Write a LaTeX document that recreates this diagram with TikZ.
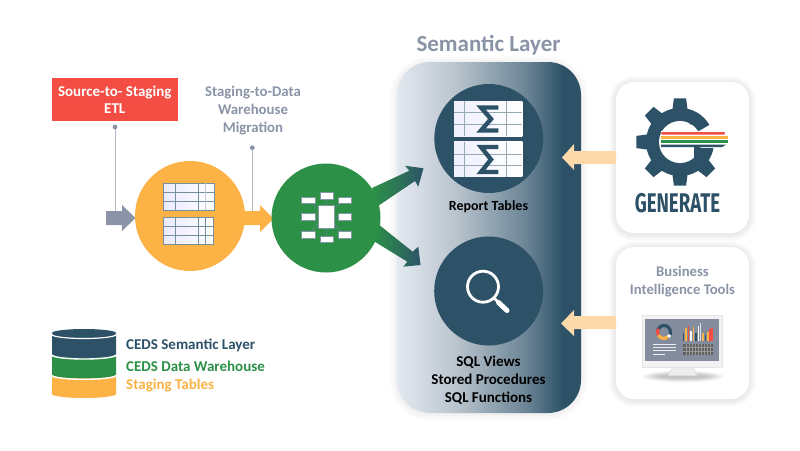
\documentclass[tikz,border=0pt]{standalone}
\usepackage{fontspec}
\usepackage{graphicx}
\setmainfont{Carlito}
\newfontfamily\genfont{Fira Sans}
\definecolor{deep}{HTML}{2D5268}
\definecolor{leaf}{HTML}{2C9147}
\definecolor{amber}{HTML}{FCB244}
\definecolor{slate}{HTML}{8A94A6}
\definecolor{redbox}{HTML}{F44D44}
\definecolor{peach}{HTML}{FDD9A9}
\definecolor{leader}{HTML}{B4BAC6}
\definecolor{panelA}{HTML}{E4E9F1}
\definecolor{panelB}{HTML}{B9C4CD}
\definecolor{panelC}{HTML}{6C8596}
\pgfdeclarehorizontalshading{panelshade}{100bp}{color(0bp)=(panelA);color(25bp)=(panelA);color(41bp)=(panelB);color(60bp)=(panelC);color(70bp)=(deep);color(75bp)=(deep);color(100bp)=(deep)}
\tikzset{
  ball/.style={circle,inner sep=0pt,minimum size=#1},
  lbl/.style={font=\bfseries\fontsize{15}{15}\selectfont,align=center,inner sep=0pt},
  cell/.style={left color=#1,right color=white,draw=none},
  gridline/.style={line width=0.9pt},
  leadline/.style={draw=leader,line width=0.9pt},
  leaddot/.style={fill=slate},
  sigma/.style={draw=deep,line width=4.4pt,miter limit=10,line cap=butt},
  mini/.style={fill=white,draw=deep!60,line width=0.3pt},
}
\newcommand{\softshadow}[6]{% x1 y1 x2 y2 radius opacity
  \foreach \e in {1,...,7}{
    \fill[black,opacity=#6,rounded corners=#5pt+\e pt] (#1-\e,#2-\e+1) rectangle (#3+\e,#4+\e+1);
  }
}
\begin{document}
\begin{tikzpicture}[x=1pt,y=-1pt]
\useasboundingbox (0,0) rectangle (800,450);
\fill[white] (0,0) rectangle (800,450);

% title
\node[lbl,text=slate,font=\bfseries\fontsize{23}{23}\selectfont] (title) at (488.5,45.5) {Semantic Layer};

% panel
\softshadow{397}{62}{581}{413}{33}{0.008}
\shade[shading=panelshade,rounded corners=33pt] (397,62) rectangle (581,413);

% cards
\softshadow{616}{82}{749}{233}{18}{0.011}
\fill[white,rounded corners=18pt] (616,82) rectangle (749,233);
\softshadow{616}{247}{749}{399}{18}{0.011}
\fill[white,rounded corners=18pt] (616,247) rectangle (749,399);

% peach arrows
\fill[peach] (616,151) -- (574,151) -- (574,144) -- (562,157.5) -- (574,170) -- (574,164) -- (616,164) -- cycle;
\fill[peach] (616,316) -- (574,316) -- (574,310) -- (561,323.5) -- (574,336) -- (574,329) -- (616,329) -- cycle;

% circles in panel
\node[ball=109pt,fill=deep] (rep) at (488.8,138.5) {};
\node[ball=109pt,fill=deep] (sql) at (488.7,291) {};

% green arrows
\shade[left color=leaf,right color=deep,middle color=leaf!55!deep] (372,188) -- (409.3,170.7) -- (405,165.7) -- (423.5,168.3) -- (418.3,186.7) -- (415,181) -- (378,206) -- cycle;
\shade[left color=leaf,right color=deep,middle color=leaf!55!deep] (378,224) -- (412.7,251.7) -- (418.3,246.7) -- (420.5,265) -- (403.3,266.7) -- (407.3,261.7) -- (372,240) -- cycle;

% gray arrow and orange arrow
\fill[slate] (106,211) -- (122,211) -- (122,205) -- (135.5,218) -- (122,231) -- (122,225) -- (106,225) -- cycle;
\coordinate (etldot) at (115,127);
\coordinate (etlend) at (115,211);
\coordinate (migdot) at (252.3,147.7);
\coordinate (migend) at (252.3,211);

% staging circle
\node[ball=110pt,fill=amber] (stg) at (190,216) {};
\fill[amber] (240,211) -- (260,211) -- (260,205) -- (273.5,218.5) -- (260,232) -- (260,225) -- (240,225) -- cycle;

% leaders
\draw[leadline] (etldot) -- (etlend);
\fill[leaddot] (etldot) circle[radius=2.4pt];
\draw[leadline] (migdot) -- (migend);
\fill[leaddot] (migdot) circle[radius=2.4pt];

% staging tables
\shade[cell=blue!8] (163.3,183.3) rectangle (214.3,210);
\draw[gridline,draw=deep!65] (163.3,183.3) rectangle (214.3,210)
  (163.3,192.3) -- (214.3,192.3) (163.3,201) -- (214.3,201) (175.3,183.3) -- (175.3,210) (198.3,183.3) -- (198.3,210);
\draw[gridline,draw=deep!30] (205.7,183.3) -- (205.7,210);
\shade[cell=blue!8] (163.3,217.3) rectangle (213.7,244);
\draw[gridline,draw=deep!65] (163.3,217.3) rectangle (213.7,244)
  (163.3,226) -- (213.7,226) (163.3,235.3) -- (213.7,235.3) (175.3,217.3) -- (175.3,244) (198.3,217.3) -- (198.3,244) (205.7,217.3) -- (205.7,244);

% warehouse circle
\node[ball=109pt,fill=leaf] (dw) at (326,218) {};
\draw[deep!70,line width=0.5pt]
  (326,216) -- (308,200) (326,216) -- (326.5,195.5) (326,216) -- (344.5,200)
  (326,216) -- (308,216.5) (326,216) -- (344.5,216.5)
  (326,216) -- (308,234) (326,216) -- (326.5,239) (326,216) -- (344.5,234);
\fill[mini] (301,196.7) rectangle (315,203.3);
\fill[mini] (320,192) rectangle (333,198.7);
\fill[mini] (338,196.7) rectangle (351.3,203.3);
\fill[mini] (301,213.3) rectangle (315,220);
\fill[mini] (338,213.3) rectangle (351.3,220);
\fill[mini] (301,231) rectangle (315,237.7);
\fill[mini] (320,235.7) rectangle (333,242.3);
\fill[mini] (338,231) rectangle (351.3,237.7);
\fill[mini] (318,205) rectangle (334.3,228.3);

% report tables
\shade[cell=blue!6] (454,101) rectangle (522.3,136);
\draw[gridline,draw=deep!50] (454,112.3) -- (522.3,112.3) (454,124.3) -- (522.3,124.3) (464.3,101) -- (464.3,136) (506.7,101) -- (506.7,136);
\shade[cell=blue!6] (454,141.7) rectangle (522.3,176.7);
\draw[gridline,draw=deep!50] (454,154.3) -- (522.3,154.3) (454,165.7) -- (522.3,165.7) (464.3,141.7) -- (464.3,176.7) (506.7,141.7) -- (506.7,176.7);
\draw[sigma] (498.3,107.5) -- (481,107.5) -- (491,119) -- (481,130.5) -- (498.3,130.5);
\draw[sigma] (498.3,147) -- (481,147) -- (491,159.5) -- (481,172) -- (498.3,172);

% magnifier
\draw[white,line width=2.8pt] (483,286.7) circle[radius=15.5pt];
\draw[white,line width=2.6pt] (494,298) -- (500,304);
\draw[white,line width=5pt,line cap=round] (498.5,302.5) -- (507,310.5);

% labels
\node[lbl,text=black,font=\bfseries\fontsize{14}{14}\selectfont] (reptxt) at (488.5,206.5) {Report Tables};
\node[lbl,text=black,font=\bfseries\fontsize{15}{18.3}\selectfont] (sqltxt) at (488.5,380) {SQL Views\\Stored Procedures\\SQL Functions};
\node[lbl,text=white,fill=redbox,minimum width=126.5pt,minimum height=43pt,font=\bfseries\fontsize{15}{17.5}\selectfont] (etl) at (114.75,99.5) {Source-to- Staging\\ETL};
\node[lbl,text=slate,font=\bfseries\fontsize{14.8}{18}\selectfont] (migtxt) at (253,111) {Staging-to-Data\\Warehouse\\Migration};
\node[lbl,text=slate,font=\bfseries\fontsize{14.7}{18}\selectfont] (bitxt) at (682.5,282) {Business\\Intelligence Tools};

% generate gear
\begin{scope}[shift={(680,142)}]
  \fill[deep] (0,0) circle[radius=34pt];
  \foreach \a in {90,135,180,225,270,315}{
    \fill[deep] (\a-14:32pt) -- (\a-8:44pt) -- (\a+8:44pt) -- (\a+14:32pt) -- cycle;
  }
  \fill[white] (0pt,0pt) -- (30:50pt) -- (-8:50pt) -- cycle;
  \fill[white] (0,0) circle[radius=21pt];
  \fill[deep] (8pt,20pt) -- (15pt,28.5pt) -- (15pt,22pt) -- (11pt,17pt) -- cycle;
\end{scope}
\fill[white] (661,131) rectangle (729,148);
\fill[redbox,rounded corners=1pt] (661,132) rectangle (725,134.6);
\fill[amber] (661,136.2) rectangle (728,138.8);
\fill[leaf] (661,140.4) rectangle (727.5,143);
\fill[deep] (661,144.6) -- (726,144.6) -- (722,147.2) -- (700,147.2) -- (704,152) -- (694,158) -- (694,147.2) -- (661,147.2) -- cycle;
\node[lbl,text=deep,font=\genfont\bfseries\fontsize{27}{27}\selectfont] (gen) at (677.5,203) {\scalebox{0.69}[1]{GENERATE}};

% monitor
\foreach \r in {1,...,8}{
  \fill[black,opacity=0.03] (683,376.5) ellipse[x radius=43pt-\r*2.4pt,y radius=6.5pt-\r*0.6pt];
}
\fill[white!93!black,draw=white!88!black,line width=0.4pt] (673,366) -- (668,375.5) -- (697,375.5) -- (693,366) -- cycle;
\fill[white!95!black,draw=white!90!black,line width=0.4pt] (641.7,315) rectangle (722.3,366.7);
\fill[slate!95!black] (645,319) rectangle (719,360.7);
\draw[deep,line width=3.2pt] (664,332) ++(-60:6.5pt) arc[start angle=-60,end angle=190,radius=6.5pt];
\draw[redbox,line width=3.2pt] (664,332) ++(150:6.5pt) arc[start angle=150,end angle=210,radius=6.5pt];
\draw[amber,line width=3.2pt] (664,332) ++(210:6.5pt) arc[start angle=210,end angle=310,radius=6.5pt];
\draw[white,line width=3.2pt] (664,332) ++(310:6.5pt) arc[start angle=310,end angle=335,radius=6.5pt];
\draw[white!85!slate,line width=0.9pt] (652.7,344.3) -- (676,344.3) (652.7,347.3) -- (676,347.3) (652.7,350.7) -- (676,350.7) (652.7,354) -- (665,354);
\foreach \x/\t/\c in {683.5/333/deep,686/328/amber,688.5/326/redbox,691/331/white,693.5/327/amber,696/333/deep,698.5/326/white,700.5/323/white!70!slate,703/333/amber,705.5/335/deep,708/332/amber,710/329/redbox,712/328/redbox}{
  \draw[\c,line width=1.5pt] (\x,340.7) -- (\x,\t);
}
\fill[black!62] (682.7,344) rectangle (712.7,355);
\foreach \x in {686,689,692,695,698,701,704,707,710}{\draw[white!60!black,line width=0.5pt] (\x,344) -- (\x,355);}
\draw[white!60!black,line width=0.4pt] (682.7,347.5) -- (712.7,347.5) (682.7,351) -- (712.7,351);

% legend cylinder
\fill[amber] (52,376) -- (116,376) -- (116,394) arc[start angle=0,end angle=-180,x radius=32pt,y radius=4pt] -- cycle;
\fill[leaf] (52,355.5) -- (116,355.5) -- (116,374.5) arc[start angle=0,end angle=-180,x radius=32pt,y radius=4pt] -- cycle;
\fill[deep] (52,333.5) -- (116,333.5) -- (116,354) arc[start angle=0,end angle=-180,x radius=32pt,y radius=4pt] -- cycle;
\fill[deep] (84,333) ellipse[x radius=32pt,y radius=4pt];
\draw[white,line width=1.2pt] (52,334.5) arc[start angle=180,end angle=360,x radius=32pt,y radius=4pt];
\draw[white,line width=1.4pt] (52,355) arc[start angle=180,end angle=360,x radius=32pt,y radius=4pt];
\draw[white,line width=1.4pt] (52,375.3) arc[start angle=180,end angle=360,x radius=32pt,y radius=4pt];
\node[lbl,text=deep,anchor=west] (l1) at (126,345) {CEDS Semantic Layer};
\node[lbl,text=leaf,anchor=west] (l2) at (126,366) {CEDS Data Warehouse};
\node[lbl,text=amber,anchor=west] (l3) at (126,386) {Staging Tables};
\end{tikzpicture}
\end{document}
